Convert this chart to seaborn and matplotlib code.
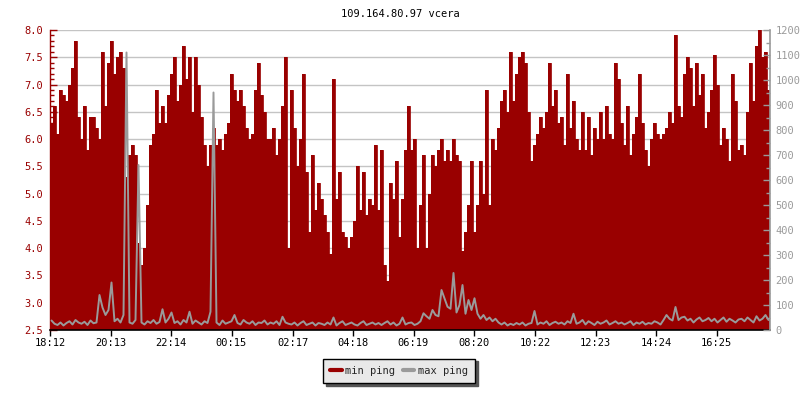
import numpy as np
import pandas as pd
import matplotlib
matplotlib.use("Agg")
import matplotlib.pyplot as plt
import seaborn as sns
from matplotlib.ticker import MultipleLocator, FormatStrFormatter
from matplotlib.lines import Line2D

# ---------------- data ----------------
title = "109.164.80.97 vcera"
start_time = "18:12"
tick_labels = ["18:12", "20:13", "22:14", "00:15", "02:17", "04:18",
               "06:19", "08:20", "10:22", "12:23", "14:24", "16:25"]
series_names = ["min ping", "max ping"]

min_ping = [
    6.3, 6.6, 6.1, 6.9, 6.8, 6.7, 7.0, 7.3, 7.8, 6.4,
    6.0, 6.6, 5.8, 6.4, 6.4, 6.2, 6.0, 7.6, 6.6, 7.4,
    7.8, 7.2, 7.5, 7.6, 7.3, 5.3, 5.7, 5.9, 5.7, 4.1,
    3.7, 4.0, 4.8, 5.9, 6.1, 6.9, 6.3, 6.6, 6.3, 6.8,
    7.2, 7.5, 6.7, 7.0, 7.7, 7.1, 7.5, 6.5, 7.5, 7.0,
    6.4, 5.9, 5.5, 5.9, 6.2, 5.9, 6.0, 5.8, 6.1, 6.3,
    7.2, 6.9, 6.7, 6.9, 6.6, 6.2, 6.0, 6.1, 6.9, 7.4,
    6.8, 6.5, 6.0, 6.0, 6.2, 5.7, 6.0, 6.6, 7.5, 4.0,
    6.9, 6.2, 5.5, 6.0, 7.2, 5.4, 4.3, 5.7, 4.7, 5.2,
    4.9, 4.6, 4.3, 3.9, 7.1, 4.9, 5.4, 4.3, 4.2, 4.0,
    4.2, 4.5, 5.5, 4.7, 5.4, 4.6, 4.9, 4.8, 5.9, 4.7,
    5.8, 3.7, 3.4, 5.2, 4.9, 5.6, 4.2, 4.9, 5.8, 6.6,
    5.8, 6.0, 4.0, 4.8, 5.7, 4.0, 5.0, 5.7, 5.5, 5.8,
    6.0, 5.6, 5.8, 5.6, 6.0, 5.7, 5.6, 3.95, 4.3, 4.8,
    5.6, 4.3, 4.8, 5.6, 5.0, 6.9, 4.8, 6.0, 5.8, 6.2,
    6.7, 6.9, 6.5, 7.6, 6.7, 7.2, 7.5, 7.6, 7.4, 6.5,
    5.6, 5.9, 6.1, 6.4, 6.2, 6.5, 7.4, 6.6, 6.9, 6.3,
    6.4, 5.9, 7.2, 6.2, 6.7, 6.0, 5.8, 6.5, 5.8, 6.4,
    5.7, 6.2, 6.0, 6.5, 6.0, 6.6, 6.1, 6.0, 7.4, 7.1,
    6.3, 5.9, 6.6, 5.7, 6.1, 6.4, 7.2, 6.3, 5.8, 5.5,
    6.0, 6.3, 6.1, 6.0, 6.1, 6.2, 6.5, 6.3, 7.9, 6.6,
    6.4, 7.2, 7.5, 7.3, 6.6, 7.4, 6.8, 7.2, 6.2, 6.5,
    6.9, 7.55, 7.0, 5.9, 6.2, 6.0, 5.6, 7.2, 6.7, 5.8,
    5.9, 5.7, 6.5, 7.4, 6.7, 7.7, 8.0, 7.5, 7.6, 6.9,
]

max_ping = [
    38, 25, 20, 30, 18, 28, 35, 22, 40, 30,
    25, 33, 20, 38, 27, 30, 140, 90, 60, 80,
    190, 35, 45, 30, 60, 1110, 30, 25, 40, 660,
    30, 22, 35, 28, 40, 25, 32, 83, 30, 45,
    70, 28, 35, 22, 40, 30, 73, 25, 38, 30,
    22, 35, 28, 73, 950, 30, 20, 38, 25, 30,
    35, 60, 28, 22, 40, 30, 25, 35, 20, 30,
    28, 38, 22, 30, 25, 35, 20, 53, 30, 25,
    22, 30, 18, 28, 35, 20, 25, 30, 18, 28,
    25, 20, 30, 22, 50, 18, 28, 35, 20, 25,
    30, 22, 18, 28, 35, 20, 25, 30, 22, 28,
    20, 28, 35, 22, 30, 18, 25, 50, 22, 28,
    30, 20, 25, 35, 67, 55, 45, 80, 60, 55,
    160, 127, 93, 85, 228, 70, 100, 180, 65, 120,
    80, 127, 65, 45, 60, 40, 50, 35, 45, 30,
    22, 30, 18, 25, 20, 28, 22, 30, 18, 25,
    28, 76, 22, 30, 25, 35, 20, 28, 33, 25,
    30, 22, 35, 28, 65, 25, 30, 40, 22, 35,
    28, 20, 33, 25, 30, 38, 22, 28, 35, 25,
    30, 22, 28, 35, 20, 30, 25, 33, 22, 28,
    25, 35, 30, 22, 40, 60, 45, 38, 92, 40,
    50, 53, 38, 45, 30, 42, 50, 35, 40, 48,
    35, 45, 30, 40, 50, 33, 45, 38, 30, 42,
    45, 35, 50, 40, 30, 55, 38, 45, 60, 40,
]

# ---------------- style ----------------
RED = "#990000"
GRAY = "#9a9a9a"
FONT = "DejaVu Sans Mono"
FS = 7.5

sns.set_theme(style="white")
plt.rcParams["font.family"] = [FONT, "DejaVu Sans"]

SPAN = 24 * 60  # minutes shown


def to_min(s):
    h, m = map(int, s.split(":"))
    h0, m0 = map(int, start_time.split(":"))
    return ((h * 60 + m) - (h0 * 60 + m0)) % SPAN


n = len(min_ping)
dt = SPAN / n
t = np.arange(n) * dt
t_ext = np.append(t, SPAN)
df_fill = pd.DataFrame({"t": t_ext, "min": np.append(min_ping, min_ping[-1])})
df_line = pd.DataFrame({"t": t + dt / 2, "max": max_ping})

fig = plt.figure(figsize=(8, 4), dpi=100)
ax = fig.add_axes([50 / 800, 70 / 400, 720 / 800, 300 / 400])
ax.set_facecolor("white")

ax.set_axisbelow(True)
ax.grid(axis="y", which="major", color="#c4c4c4", lw=1.0)
ax.grid(axis="x", visible=False)

ax.fill_between(df_fill["t"], df_fill["min"], 2.5, step="post", color=RED,
                lw=0, zorder=2)
sns.lineplot(data=df_fill, x="t", y="min", drawstyle="steps-post", color=RED,
             lw=0.6, ax=ax, legend=False, zorder=3)

ax.set_xlim(0, SPAN)
ax.set_ylim(2.5, 8.0)
ax.set_xlabel("")
ax.set_ylabel("")
ax.yaxis.set_major_locator(MultipleLocator(0.5))
ax.yaxis.set_minor_locator(MultipleLocator(0.1))
ax.yaxis.set_major_formatter(FormatStrFormatter("%.1f"))
ax.set_xticks([to_min(s) for s in tick_labels])
ax.set_xticklabels(tick_labels)
ax.tick_params(axis="y", which="major", direction="in", length=5, width=1,
               color=RED, labelcolor=RED, labelsize=FS, pad=5, left=True)
ax.tick_params(axis="y", which="minor", direction="in", length=3, width=1,
               color=RED, left=True)
ax.tick_params(axis="x", direction="out", length=4, width=1, color="black",
               labelcolor="black", labelsize=FS, pad=2, bottom=True)
ax.spines["top"].set_visible(False)
ax.spines["right"].set_visible(False)
ax.spines["left"].set_color(RED)
ax.spines["left"].set_linewidth(1.0)
ax.spines["bottom"].set_color("black")
ax.spines["bottom"].set_linewidth(1.2)
ax.spines["bottom"].set_zorder(5)

ax2 = ax.twinx()
sns.lineplot(data=df_line, x="t", y="max", color=GRAY, lw=1.4, ax=ax2,
             legend=False)
ax2.set_ylim(0, 1200)
ax2.set_xlim(0, SPAN)
ax2.set_xlabel("")
ax2.set_ylabel("")
ax2.yaxis.set_major_locator(MultipleLocator(100))
ax2.yaxis.set_minor_locator(MultipleLocator(50))
ax2.tick_params(axis="y", which="major", direction="in", length=5, width=1,
                color=GRAY, labelcolor=GRAY, labelsize=FS, pad=4, right=True)
ax2.tick_params(axis="y", which="minor", direction="in", length=3, width=1,
                color=GRAY, right=True)
for s in ["top", "left", "bottom"]:
    ax2.spines[s].set_visible(False)
ax2.spines["right"].set_color(GRAY)
ax2.spines["right"].set_linewidth(1.2)
ax2.grid(False)

fig.text(0.5, 1 - 14 / 400, title, ha="center", va="center",
         fontsize=FS, color="black")

handles = [Line2D([0], [0], color=RED, lw=3),
           Line2D([0], [0], color=GRAY, lw=3)]
leg = fig.legend(handles, series_names, loc="center",
                 bbox_to_anchor=(399 / 800, 1 - 371 / 400), ncol=2,
                 frameon=True, fancybox=False, facecolor="#e9e9e9",
                 edgecolor="black", shadow={"color": "#555555", "alpha": 1},
                 fontsize=FS, handlelength=1.1, handletextpad=0.35,
                 columnspacing=0.7, borderpad=0.7, borderaxespad=0)
leg.get_frame().set_linewidth(1.0)

fig.savefig("out.png", dpi=100)
